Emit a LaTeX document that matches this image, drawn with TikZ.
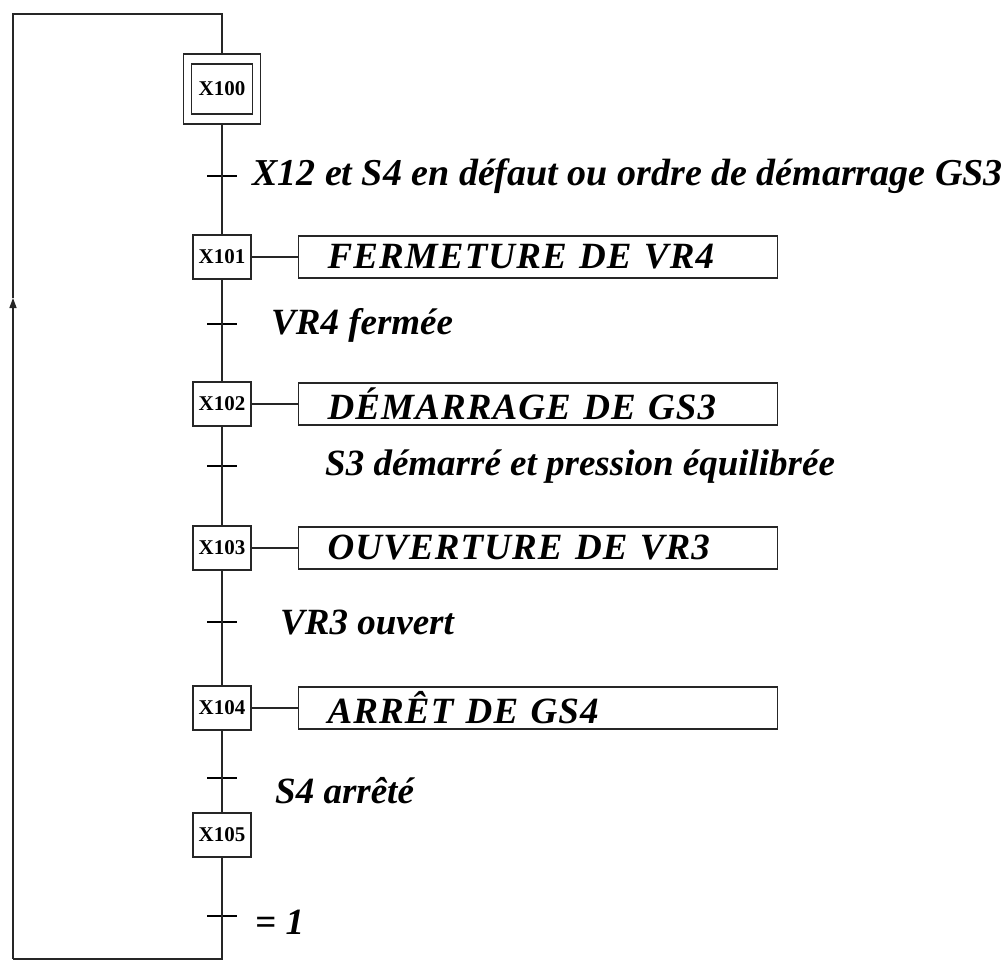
\documentclass[tikz,border=0pt]{standalone}
\usepackage{fontspec}
\setmainfont{Liberation Serif}
\newfontfamily\actfont[LetterSpace=3]{Liberation Serif}
\usetikzlibrary{arrows.meta}
\begin{document}
\begin{tikzpicture}[x=1pt,y=-1pt,
  line/.style={line width=1.3pt,black!85},
  stepbox/.style={draw=black!85,line width=1.3pt,minimum width=58pt,minimum height=44pt,inner sep=0pt,font=\fontsize{21}{22}\selectfont\bfseries},
  actbox/.style={draw=black!85,line width=1.3pt,anchor=west,minimum width=479pt,minimum height=42pt,inner xsep=29pt,inner ysep=0pt,text width=421pt,align=left,font=\actfont\fontsize{37}{40}\selectfont\bfseries\itshape},
  lab/.style={anchor=west,inner sep=0pt,font=\fontsize{37}{40}\selectfont\bfseries\itshape},
  tick/.style={line width=2.2pt}]
\useasboundingbox (0,0) rectangle (1003,961);
% steps
\node[stepbox,minimum width=77pt,minimum height=70pt] (s100o) at (222,89) {};
\node[stepbox,minimum width=61pt,minimum height=50pt] (s100) at (222,89) {X100};
\node[stepbox] (s101) at (222,257) {X101};
\node[stepbox] (s102) at (222,404) {X102};
\node[stepbox] (s103) at (222,548) {X103};
\node[stepbox] (s104) at (222,708) {X104};
\node[stepbox] (s105) at (222,835) {X105};
% actions
\node[actbox] (a101) at (298,257) {FERMETURE DE VR4};
\node[actbox] (a102) at (298,404) {DÉMARRAGE DE GS3};
\node[actbox] (a103) at (298,548) {OUVERTURE DE VR3};
\node[actbox] (a104) at (298,708) {ARRÊT DE GS4};
\draw[line] (s101) -- (a101);
\draw[line] (s102) -- (a102);
\draw[line] (s103) -- (a103);
\draw[line] (s104) -- (a104);
% transitions
\coordinate (t1) at (222,176);
\coordinate (t2) at (222,324);
\coordinate (t3) at (222,466);
\coordinate (t4) at (222,622);
\coordinate (t5) at (222,778);
\coordinate (t6) at (222,916);
\foreach \t in {t1,t2,t3,t4,t5,t6}
  \draw[tick] ([xshift=-15pt]\t) -- ([xshift=15pt]\t);
\node[lab,font=\fontsize{38}{40}\selectfont\bfseries\itshape] (l1) at (252,176) {X12 et S4 en défaut ou ordre de démarrage GS3};
\node[lab] (l2) at (271,325) {VR4 fermée};
\node[lab] (l3) at (325,467) {S3 démarré et pression équilibrée};
\node[lab] (l4) at (280,623) {VR3 ouvert};
\node[lab] (l5) at (275,791) {S4 arrêté};
\node[lab] (l6) at (255,922) {= 1};
% main line
\draw[line] (s100o.south) -- (t1) -- (s101.north);
\draw[line] (s101.south) -- (t2) -- (s102.north);
\draw[line] (s102.south) -- (t3) -- (s103.north);
\draw[line] (s103.south) -- (t4) -- (s104.north);
\draw[line] (s104.south) -- (t5) -- (s105.north);
% loop back
\coordinate (top) at (222,14);
\coordinate (tl) at (13,14);
\coordinate (bl) at (13,959);
\coordinate (br) at (222,959);
\coordinate (arr) at (13,298);
\draw[line] (s105.south) -- (t6) -- (br) -- (bl);
\draw[line,-{Triangle[length=10pt,width=7pt]}] (bl) -- (arr);
\draw[line] (arr) -- (tl) -- (top) -- (s100o.north);
\end{tikzpicture}
\end{document}
